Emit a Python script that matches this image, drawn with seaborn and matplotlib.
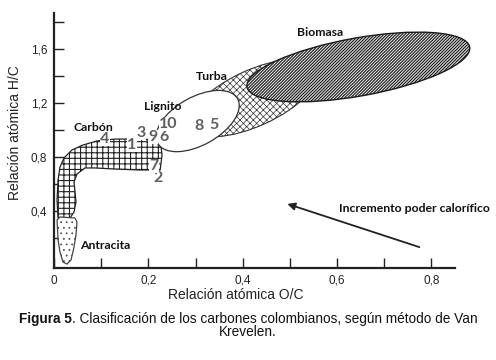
import numpy as np
import matplotlib
matplotlib.use("Agg")
import matplotlib.pyplot as plt
import seaborn as sb
from matplotlib.patches import Ellipse, Polygon
from matplotlib.transforms import Affine2D

sb.set_style("ticks")
plt.rcParams['font.family'] = ['Liberation Sans', 'DejaVu Sans']
plt.rcParams['hatch.linewidth'] = 0.7

# --- data (O/C, H/C) ---
# ellipse regions: two tips of the long axis + half width (in H/C units)
biomasa_tips = [(0.409, 1.319), (0.881, 1.615)]
biomasa_halfw = 0.215
turba_tips = [(0.289, 1.021), (0.558, 1.453)]
turba_halfw = 0.207
lignito_tips = [(0.220, 0.901), (0.389, 1.232)]
lignito_halfw = 0.178

carbon_oc = [0.0085, 0.0064, 0.0085, 0.0127, 0.0212, 0.038, 0.0614, 0.091, 0.129,
             0.182, 0.225, 0.229, 0.225, 0.182, 0.129, 0.087, 0.0657, 0.0487,
             0.0424, 0.0445, 0.0466, 0.0424, 0.034]
carbon_hc = [0.348, 0.481, 0.630, 0.726, 0.793, 0.852, 0.889, 0.919, 0.933,
             0.933, 0.926, 0.815, 0.704, 0.704, 0.711, 0.719, 0.719, 0.674,
             0.615, 0.541, 0.467, 0.393, 0.348]

antracita_oc = [0.0064, 0.0085, 0.0127, 0.019, 0.0275, 0.036, 0.042, 0.0466, 0.0487, 0.0445, 0.0127]
antracita_hc = [0.333, 0.185, 0.096, 0.022, 0.007, 0.037, 0.126, 0.222, 0.319, 0.348, 0.356]

# colombian coal samples
sample_id = ['1', '2', '3', '4', '5', '6', '7', '8', '9', '10']
sample_oc = [0.165, 0.220, 0.184, 0.108, 0.339, 0.233, 0.212, 0.307, 0.210, 0.242]
sample_hc = [0.889, 0.644, 0.978, 0.933, 1.037, 0.948, 0.733, 1.030, 0.948, 1.044]

region_names = ['Biomasa', 'Turba', 'Lignito', 'Carbón', 'Antracita']
region_oc = [0.564, 0.335, 0.231, 0.083, 0.108]
region_hc = [1.719, 1.400, 1.178, 1.022, 0.141]

arrow_tail = (0.780, 0.126)
arrow_head = (0.489, 0.459)
arrow_text = 'Incremento poder calorífico'
arrow_text_pos = (0.763, 0.422)

xticks = [0, 0.1, 0.2, 0.3, 0.4, 0.5, 0.6, 0.7, 0.8]
xticklabels = ['0', '', '0,2', '', '0,4', '', '0,6', '', '0,8']
yticks = [0.2, 0.4, 0.6, 0.8, 1.0, 1.2, 1.4, 1.6, 1.8]
yticklabels = ['', '0,4', '', '0,8', '', '1,2', '', '1,6', '']

fig = plt.figure(figsize=(4.96, 3.6), dpi=100)
ax = fig.add_axes([0.1089, 0.2556, 0.8085, 0.7083])
ax.set_xlim(0, 0.85)
ax.set_ylim(-0.022, 1.867)


def ellipse_from_tips(ax, tips, halfw, **kw):
    # build it in screen-proportional units so it is not skewed by the axes aspect
    p0 = ax.transData.transform((0, 0))
    p1 = ax.transData.transform((1, 1))
    sx, sy = p1 - p0
    a = np.array(tips[0]) * [sx, sy]
    b = np.array(tips[1]) * [sx, sy]
    c = (a + b) / 2
    d = b - a
    ang = np.degrees(np.arctan2(d[1], d[0]))
    tr = Affine2D().scale(1 / sx, 1 / sy) + ax.transData
    return Ellipse(c, np.hypot(*d), 2 * halfw * sy, angle=ang, transform=tr,
                   clip_on=False, **kw)


def add(p, hlw=None):
    if hlw is not None and hasattr(p, 'set_hatch_linewidth'):
        p.set_hatch_linewidth(hlw)
    ax.add_patch(p)


add(ellipse_from_tips(ax, turba_tips, turba_halfw, facecolor='white',
                      edgecolor='#333', hatch='xxxxx', lw=0.8, zorder=1), 0.5)
add(ellipse_from_tips(ax, biomasa_tips, biomasa_halfw, facecolor='#e6e6e6',
                      edgecolor='#1a1a1a', hatch='/' * 11, lw=1.0, zorder=2), 0.8)
add(Polygon(np.column_stack([carbon_oc, carbon_hc]), closed=True,
            facecolor='white', edgecolor='#222', hatch='+++', lw=0.9, zorder=2), 0.8)
add(Polygon(np.column_stack([antracita_oc, antracita_hc]), closed=True,
            facecolor='white', edgecolor='#444', hatch='...', lw=0.9, zorder=2), 0.5)
add(ellipse_from_tips(ax, lignito_tips, lignito_halfw, facecolor='white',
                      edgecolor='#333', lw=0.9, zorder=3))

for name, x, y in zip(region_names, region_oc, region_hc):
    ax.text(x, y, name, ha='center', va='center', fontsize=8.8, fontweight='bold',
            family=['Lato', 'DejaVu Sans'], color='#111', zorder=6, clip_on=False)

for s, x, y in zip(sample_id, sample_oc, sample_hc):
    ax.text(x, y, s, ha='center', va='center', fontsize=11.5, fontweight='bold',
            family=['Lato', 'DejaVu Sans'], color='#5e5e5e', zorder=6,
            bbox=dict(boxstyle='square,pad=0.02', fc='white', ec='none'))

ax.annotate('', xy=arrow_head, xytext=arrow_tail,
            arrowprops=dict(arrowstyle='-|>', lw=1.3, color='#222', mutation_scale=11))
ax.text(*arrow_text_pos, arrow_text, ha='center', va='center', fontsize=8.8,
        fontweight='bold', family=['Lato', 'DejaVu Sans'], color='#111')

ax.set_xticks(xticks)
ax.set_xticklabels(xticklabels)
ax.set_yticks(yticks)
ax.set_yticklabels(yticklabels)
ax.tick_params(direction='in', length=7, width=1, color='#222', labelsize=8.5,
               labelcolor='#222', pad=5)
sb.despine(ax=ax)
for sp in ['left', 'bottom']:
    ax.spines[sp].set_linewidth(1.6)
    ax.spines[sp].set_color('#222')

ax.set_xlabel('Relación atómica O/C', fontsize=10, color='#222', va='top')
ax.xaxis.set_label_coords(0.454, -0.08)
ax.set_ylabel('Relación atómica H/C', fontsize=10, color='#222')
ax.yaxis.set_label_coords(-0.08, 0.53)

# caption, centred, first words in bold
r = fig.canvas.get_renderer()
W = fig.bbox.width
caption = [[('Figura 5', 'bold'),
            ('. Clasificación de los carbones colombianos, según método de Van', 'normal')],
           [('Krevelen.', 'normal')]]
for line, ypos in zip(caption, [0.114, 0.077]):
    parts = [fig.text(0, ypos, s, fontsize=9.85, fontweight=w, va='center', color='#111')
             for s, w in line]
    widths = [t.get_window_extent(r).width for t in parts]
    x0 = W / 2 - sum(widths) / 2
    for t, w in zip(parts, widths):
        t.set_x(x0 / W)
        x0 += w

fig.savefig('out.png', dpi=100)
